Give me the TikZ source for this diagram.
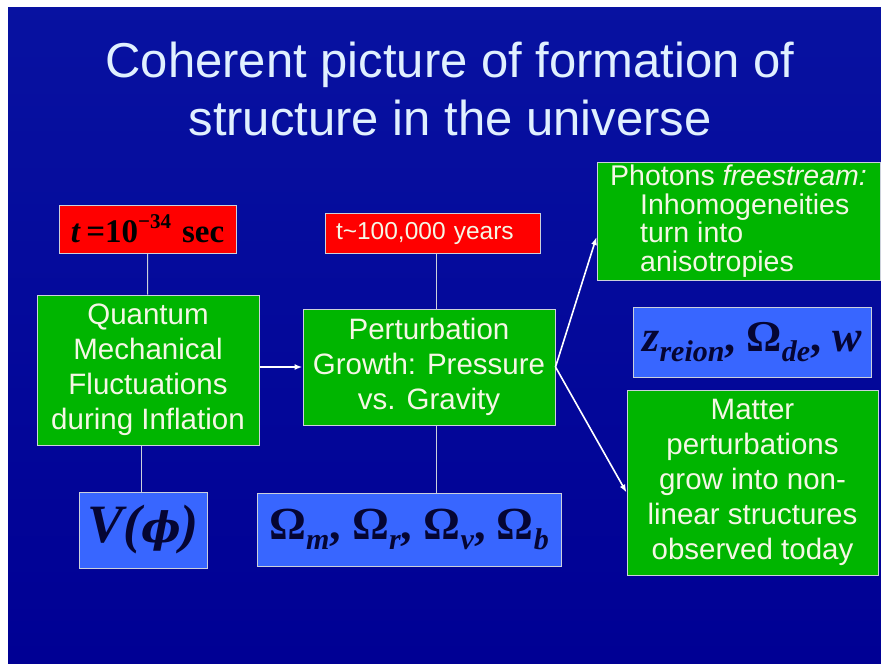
\documentclass[tikz,border=0pt]{standalone}
\usepackage{fontspec}
\setmainfont{Liberation Sans}
\newfontfamily\timesfont{Liberation Serif}
\newfontfamily\phifont{DejaVu Serif}
\usepackage{tikz}
\usetikzlibrary{arrows.meta,positioning}
\definecolor{slide}{rgb}{0,0,0.58}
\definecolor{slidetop}{rgb}{0.03,0.07,0.63}
\definecolor{grn}{rgb}{0,0.71,0}
\definecolor{hot}{rgb}{1,0,0}
\definecolor{par}{rgb}{0.22,0.40,1}
\definecolor{rim}{rgb}{0.80,0.82,0.86}
\definecolor{ink}{rgb}{0.96,0.97,0.90}
\definecolor{sky}{rgb}{0.88,0.94,1}
\definecolor{navy}{rgb}{0.02,0.02,0.20}
\newcommand{\Low}[1]{\raisebox{-0.22em}{\fontsize{30}{30}\selectfont\itshape #1}}
\newcommand{\High}[1]{\raisebox{0.42em}{\fontsize{21}{21}\selectfont #1}}

\begin{document}
\begin{tikzpicture}[x=1pt,y=-1pt,
  box/.style={draw=rim,line width=1pt,inner sep=0pt,align=center},
  gb/.style={box,fill=grn,text=ink,font=\fontsize{29.5}{35}\selectfont},
  rb/.style={box,fill=hot},
  pb/.style={box,fill=par,text=navy},
  hd/.style={text=sky,font=\fontsize{49}{58}\selectfont,anchor=base},
  ln/.style={draw=rim,line width=1pt},
  ar/.style={-{Latex[length=8pt,width=6pt]},draw=white,line width=1.6pt}]

\useasboundingbox (0,0) rectangle (881,664);
\fill[white] (0,0) rectangle (881,664);
\shade[top color=slidetop,bottom color=slide] (8,7) rectangle (881,664);

\node[hd] (head1) at (450,77) {Coherent picture of formation of};
\node[hd] (head2) at (450,135) {structure in the universe};

% left column
\node[rb,minimum width=177pt,minimum height=48pt,text=black,
      font=\timesfont\bfseries\fontsize{33}{33}\selectfont] (tinf) at (147.5,229)
  {\textit{t}\,=10\High{−34}\,\,sec};
\node[gb,minimum width=222pt,minimum height=150pt] (quant) at (148,370)
  {Quantum\\Mechanical\\Fluctuations\\during Inflation};
\node[pb,minimum width=128pt,minimum height=76pt,below=46pt of quant,xshift=-5pt,
      font=\timesfont\bfseries\itshape\fontsize{54}{54}\selectfont] (vphi)
  {V({\phifont\fontsize{42}{42}\selectfont ϕ})};

% middle column
\node[rb,minimum width=215pt,minimum height=40pt,text=ink,text width=193pt,align=left,
      font=\fontsize{24.5}{29}\selectfont] (trec) at (432.5,233) {t\textasciitilde100,000 years};
\node[gb,minimum width=252pt,minimum height=116pt] (pert) at (429,367)
  {Perturbation\\Growth: Pressure\\vs. Gravity};
\node[pb,minimum width=304pt,minimum height=73pt,below=67pt of pert,xshift=-20pt,
      font=\timesfont\bfseries\fontsize{46}{46}\selectfont] (omegas)
  {Ω\Low{m}, Ω\Low{r}, Ω\Low{v}, Ω\Low{b}};

% right column
\node[gb,minimum width=283pt,minimum height=118pt,align=left,
      font=\fontsize{28.5}{28.5}\selectfont] (photon) at (738.5,221)
  {Photons \textit{freestream:}\\\hspace*{30pt}Inhomogeneities\\\hspace*{30pt}turn into\\\hspace*{30pt}anisotropies};
\node[pb,minimum width=238pt,minimum height=70pt,
      font=\timesfont\bfseries\fontsize{44}{44}\selectfont] (zre) at (752,342)
  {\textit{z}\Low{reion}, Ω\Low{de}, \textit{w}};
\node[gb,minimum width=251pt,minimum height=185pt] (matter) at (752.5,482.5)
  {Matter\\perturbations\\grow into non-\\linear structures\\observed today};

\draw[ln] (tinf) -- (quant);
\draw[ln] ([xshift=-7pt]quant.south) -- ([xshift=-7pt]quant.south |- vphi.north);
\draw[ln] ([xshift=7pt]pert.north) -- ([xshift=7pt]pert.north |- trec.south);
\draw[ln] ([xshift=7pt]pert.south) -- ([xshift=7pt]pert.south |- omegas.north);
\draw[ar] (quant.east |- pert) -- (pert.west);
\draw[ar] (pert.east) -- ([yshift=-16pt]photon.west);
\draw[ar] (pert.east) -- ([yshift=-10pt]matter.west);
\end{tikzpicture}
\end{document}
